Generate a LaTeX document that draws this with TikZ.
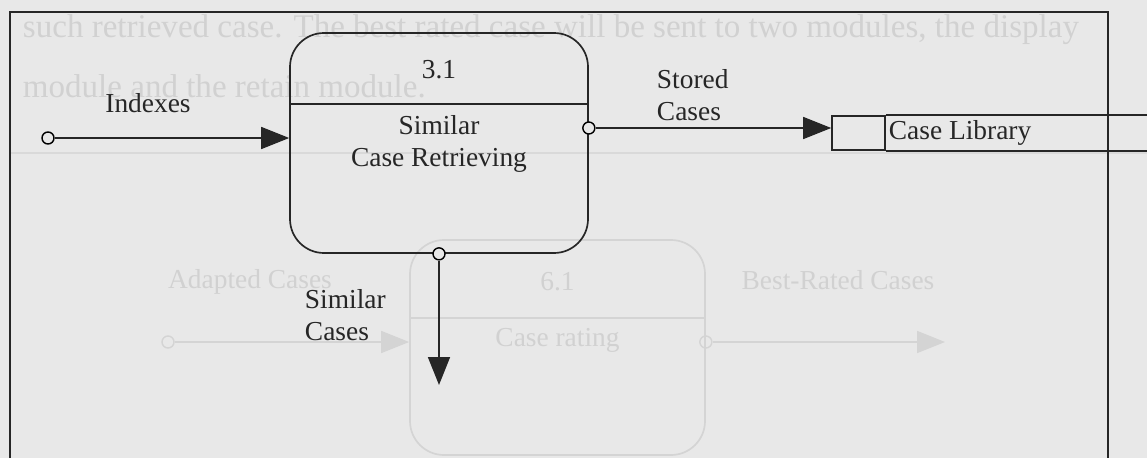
\documentclass[tikz,border=0pt]{standalone}
\usepackage{fontspec}
\setmainfont{Liberation Serif}
\usetikzlibrary{arrows.meta}

\begin{document}
\begin{tikzpicture}[every node/.style={font=\fontsize{19.5}{22.5}\selectfont,text=black!85},
  line/.style={line width=1.2pt,draw=black!85},
  proc/.style={line,rounded corners=0.85cm,minimum width=7.45cm,minimum height=5.5cm},
  tail/.style={draw,circle,line width=1pt,inner sep=0pt,minimum size=0.3cm,fill=black!9},
  flow/.style={line,-{Triangle[length=0.7cm,width=0.55cm]}},
  ghost/.style={draw=black!17,text=black!18,fill=none}]
\useasboundingbox (0,0) rectangle (28.675,11.45);
\clip (0,0) rectangle (28.675,11.45);
\fill[black!9] (0,0) rectangle (28.675,11.45);
\coordinate (cut) at (0,8.85);
\coordinate (gcut) at (0,3.5);
% show-through of the other page
\node[text=black!18,font=\fontsize{23.5}{26}\selectfont,anchor=west] (gl1) at (0.45,10.7) {such retrieved case. The best rated case will be sent to two modules, the display};
\node[text=black!18,font=\fontsize{23.5}{26}\selectfont,anchor=west] (gl2) at (0.45,9.3) {module and the retain module.};
\draw[line,black!15] (0.25,7.62) -- (28.675,7.62);
\node[proc,ghost,minimum height=5.375cm,minimum width=7.375cm] (grate) at (13.9375,2.7625) {};
\draw[line,black!17] (grate.west |- gcut) -- (grate.east |- gcut);
\node[text=black!18] (grateno) at (13.9375,4.4) {6.1};
\node[text=black!18] (gratename) at (13.9375,2.95) {Case rating};
\node[tail,ghost] (gin) at (4.2,2.9) {};
\draw[flow,black!17] (gin) -- (gin -| grate.west);
\node[text=black!18] (gadapt) at (6.25,4.4) {Adapted Cases};
\node[tail,ghost] (gout) at (grate.east |- gin) {};
\coordinate (gend) at (23.625,2.9);
\draw[flow,black!17] (gout) -- (gend);
\node[text=black!18] (gbest) at (20.95,4.45) {Best-Rated Cases};
% frame
\draw[line] (0.25,0) |- (27.7,11.15) -- (27.7,0);
% process 3.1
\node[proc] (ret) at (10.975,7.875) {};
\draw[line] (ret.west |- cut) -- (ret.east |- cut);
\node (retno) at (10.975,9.7) {3.1};
\node[align=center] (retname) at (10.975,7.85) {Similar\\Case Retrieving};
% indexes in
\node[tail] (idx) at (1.2,8.0) {};
\draw[flow] (idx) -- (idx -| ret.west);
\node (idxlbl) at (3.7,8.875) {Indexes};
% case library
\node[line,minimum width=1.325cm,minimum height=0.85cm] (libid) at (21.4625,8.125) {};
\node[anchor=west,inner sep=2pt] (lib) at (libid.east) {Case Library};
\draw[line] (libid.north east) -- ++(8,0) (libid.south east) -- ++(8,0);
\coordinate (outrow) at (0,8.25);
\node[tail] (stout) at (ret.east |- outrow) {};
\draw[flow] (stout) -- (stout -| libid.west);
\node[align=left,anchor=west] (stlbl) at (16.3,9.075) {Stored\\Cases};
% similar cases out
\node[tail] (simout) at (ret.south) {};
\coordinate (simend) at (10.975,1.825);
\draw[flow] (simout) -- (simend);
\node[align=left,anchor=west] (simlbl) at (7.5,3.575) {Similar\\Cases};
\end{tikzpicture}
\end{document}
